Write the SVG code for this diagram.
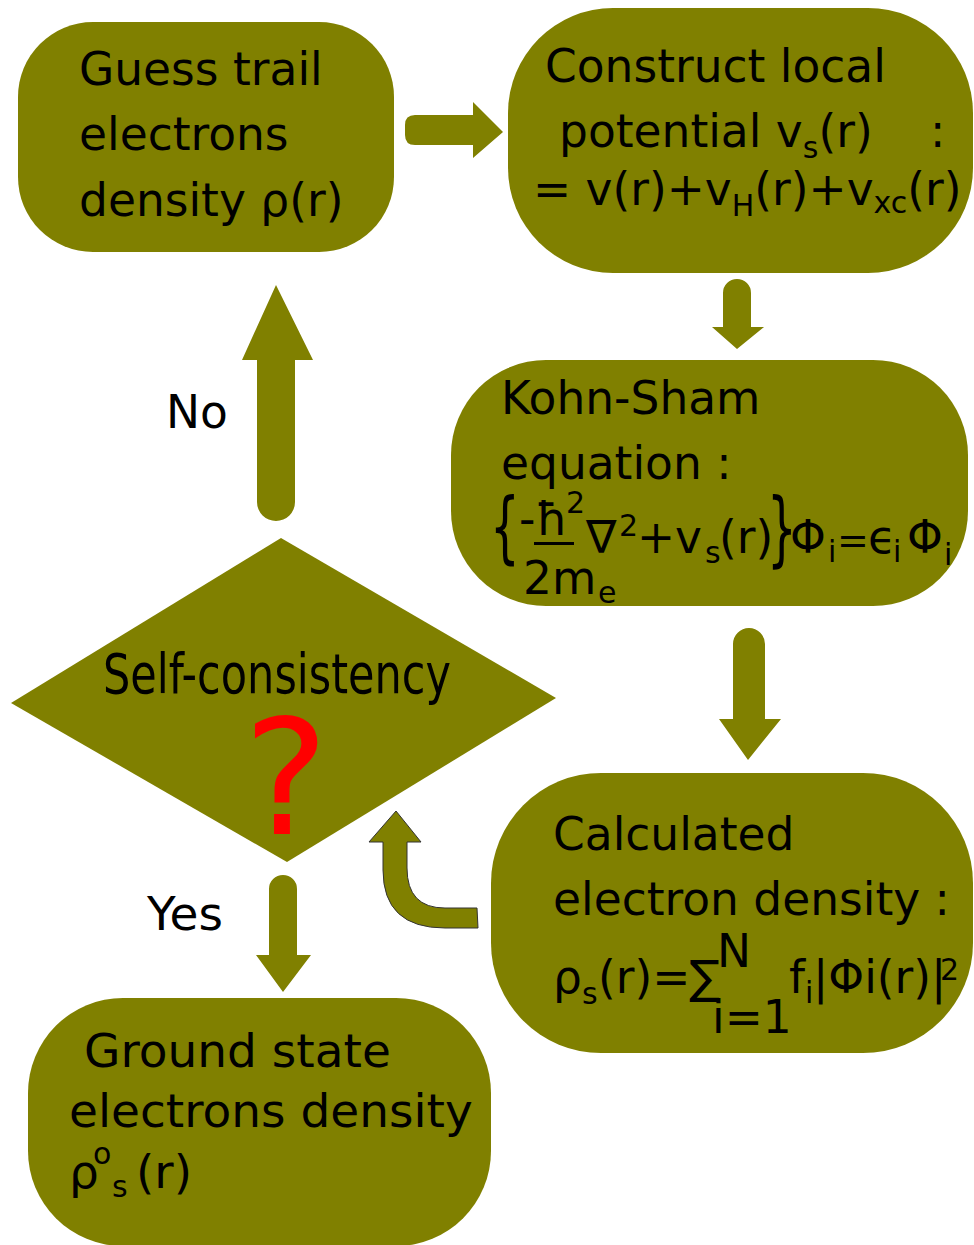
<svg xmlns="http://www.w3.org/2000/svg" width="974" height="1245" viewBox="0 0 974 1245">
<style>
.box{fill:#808000}
.t{font-family:"DejaVu Sans",sans-serif;font-size:45.5px;fill:#000}
.s{font-family:"DejaVu Sans",sans-serif;font-size:30px;fill:#000}
.arr{fill:#808000}
</style>
<rect width="974" height="1245" fill="#fff"/>
<g id="connectors">
<path class="arr" d="M415,115 L473,115 L473,102 L503,132 L473,158 L473,145 L415,145 Q405,145 405,135 L405,125 Q405,115 415,115 Z"/>
<path class="arr" d="M723,327 L723,293 A14,14 0 0 1 751,293 L751,327 L764,327 L737,349 L712,327 Z"/>
<path class="arr" d="M733,719 L733,644 A16,16 0 0 1 765,644 L765,719 L781,719 L748,760 L719,719 Z"/>
<path class="arr" d="M276,285 L313,360 L295,360 L295,502 A19,19 0 0 1 257,502 L257,360 L242,360 Z"/>
<path class="arr" d="M269,955 L269,889 A14,14 0 0 1 297,889 L297,955 L311,955 L283,992 L256,955 Z"/>
<path class="arr" d="M369,842 L396,811 L421,842 L407,842 L407,868 Q407,908 445,908 L477,908 L478,928 L445,928 Q383,928 383,870 L383,842 Z" stroke="#333" stroke-width="1"/>
<text class="t" x="166" y="428">No</text>
<text class="t" x="147" y="930" style="font-size:47px">Yes</text>
</g>
<g id="guess">
<rect class="box" x="18" y="22" width="376" height="230" rx="75"/>
<text class="t" x="79" y="85">Guess trail</text>
<text class="t" x="79" y="150">electrons</text>
<text class="t" x="79" y="216">density ρ(r)</text>
</g>
<g id="construct">
<rect class="box" x="508" y="8" width="465" height="265" rx="105"/>
<text class="t" x="545" y="82">Construct local</text>
<text class="t" x="559" y="147">potential v<tspan class="s" dy="11">s</tspan><tspan dy="-11">(r)</tspan></text>
<text class="t" x="930" y="147">:</text>
<text class="t" x="533" y="205">= v(r)+v<tspan class="s" dy="11">H</tspan><tspan dy="-11">(r)+v</tspan><tspan class="s" dy="8">xc</tspan><tspan dy="-8">(r)</tspan></text>
</g>
<g id="kohnsham">
<rect class="box" x="451" y="360" width="517" height="246" rx="95"/>
<text class="t" x="501" y="414">Kohn-Sham</text>
<text class="t" x="501" y="479">equation :</text>
<text class="t" transform="translate(490,554) scale(0.6,1)" style="font-size:78px">{</text>
<text class="t" x="519" y="535">-</text>
<text class="t" x="536" y="535">ħ</text>
<text class="s" x="566" y="513">2</text>
<rect x="534" y="542" width="40" height="3" fill="#000"/>
<text class="t" x="523" y="594">2m</text>
<text class="s" x="598" y="603">e</text>
<text class="t" x="586" y="553">∇</text>
<text class="s" x="619" y="536">2</text>
<text class="t" x="637" y="553">+v</text>
<text class="s" x="705" y="563">s</text>
<text class="t" x="719" y="553">(r)</text>
<text class="t" transform="translate(767,556) scale(0.6,1.05)" style="font-size:78px">}</text>
<text class="t" x="790" y="553">Φ</text>
<text class="s" x="828" y="562">i</text>
<text class="t" x="837" y="553" style="font-size:38px">=</text>
<text class="t" x="868" y="553">ϵ</text>
<text class="s" x="893" y="562">i</text>
<text class="t" x="907" y="553">Φ</text>
<text class="s" x="944" y="565">i</text>
</g>
<g id="calculated">
<rect class="box" x="491" y="773" width="482" height="280" rx="110"/>
<text class="t" x="553" y="850">Calculated</text>
<text class="t" x="553" y="915">electron density :</text>
<text class="t" x="553" y="993">ρ</text>
<text class="s" x="582" y="1004">s</text>
<text class="t" x="598" y="993">(r)=</text>
<text class="t" x="689" y="993">∑</text>
<text class="t" x="717" y="967">N</text>
<text class="t" x="712" y="1033">i=1</text>
<text class="t" x="789" y="993">f</text>
<text class="s" x="805" y="1003">i</text>
<text class="t" x="813" y="993">|Φi(r)|</text>
<text class="s" x="940" y="980">2</text>
</g>
<g id="decision">
<polygon class="box" points="281,538 556,698 287,862 11,703"/>
<text class="t" x="103" y="693" style="font-size:56px" textLength="348" lengthAdjust="spacingAndGlyphs">Self-consistency</text>
<text x="286" y="834" text-anchor="middle" style="font-family:'DejaVu Sans',sans-serif;font-size:160px;fill:#ff0000">?</text>
</g>
<g id="ground">
<rect class="box" x="28" y="998" width="463" height="248" rx="95"/>
<text class="t" x="84" y="1067" style="font-size:47px">Ground state</text>
<text class="t" x="69" y="1127" style="font-size:47px">electrons density</text>
<text class="t" x="69" y="1188" style="font-size:47px">ρ</text>
<text class="s" x="93" y="1164">o</text>
<text class="s" x="112" y="1197">s</text>
<text class="t" x="136" y="1188" style="font-size:47px">(r)</text>
</g>
</svg>
